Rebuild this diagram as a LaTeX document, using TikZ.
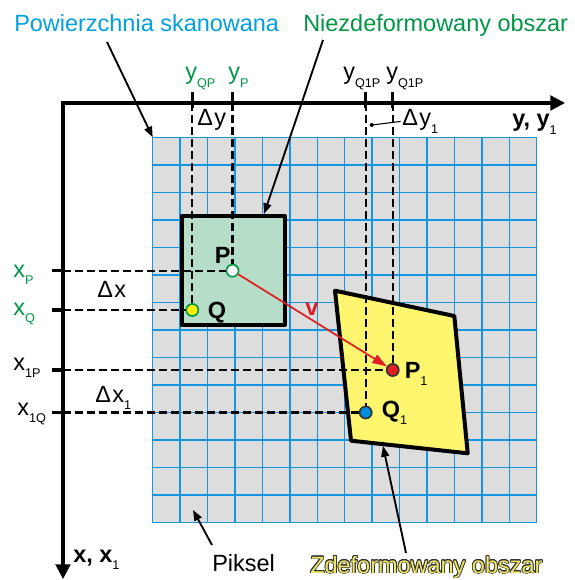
\documentclass[tikz,border=0pt]{standalone}
\usepackage{fontspec}
\setmainfont{Liberation Sans}
\usepackage[copies]{contour}
\contourlength{0.55pt}
\contournumber{20}
\usetikzlibrary{arrows.meta}
\definecolor{gridfill}{RGB}{221,221,221}
\definecolor{gridline}{RGB}{20,150,225}
\definecolor{sqfill}{RGB}{181,221,200}
\definecolor{quadfill}{RGB}{255,246,112}
\definecolor{tblue}{RGB}{0,160,225}
\definecolor{tgreen}{RGB}{0,150,70}
\definecolor{vred}{RGB}{225,30,35}
\definecolor{qoneblue}{RGB}{0,140,220}
\definecolor{qyellow}{RGB}{255,240,0}
\definecolor{zyellow}{RGB}{240,232,100}
\newcommand\sbs[1]{\raisebox{-0.3em}{\fontsize{9.5}{9.5}\selectfont #1}}
\newcommand\fsz{\fontsize{17.6}{17.6}\selectfont}
\begin{document}
\begin{tikzpicture}[x=0.75pt,y=-0.75pt,
  lbl/.style={inner sep=0pt, anchor=base west, font=\fsz},
  ptnode/.style={circle, inner sep=0pt, minimum size=9pt, line width=1.1pt},
  dsh/.style={dash pattern=on 6pt off 3pt, line width=1.7pt},
  ptr/.style={line width=1.4pt, -{Triangle[length=8pt,width=6pt]}},
  axisline/.style={line width=2.3pt, line join=miter, {Triangle[length=11pt,width=11pt]}-{Triangle[length=11pt,width=11pt]}},
  tickline/.style={line width=2.3pt},
  frame/.style={line width=3pt, line join=round}]
\useasboundingbox (0,0) rectangle (574,580);
% grid
\fill[gridfill] (152.7,137.3) rectangle (536.7,522.7);
\foreach \i in {0,...,14}{
  \draw[gridline, line width=1.1pt] ({152.7+\i*27.4286},137.3) -- ({152.7+\i*27.4286},522.7);
  \draw[gridline, line width=1.1pt] (152.7,{137.3+\i*27.5286}) -- (536.7,{137.3+\i*27.5286});
}
\coordinate (gridcorner) at (152.7,137.3);
% undeformed square
\draw[frame, fill=sqfill] (181.5,216) rectangle (285,325);
\coordinate (sqtop) at (264,214);
% deformed quad
\draw[frame, fill=quadfill] (335,290.7) -- (454.3,316) -- (467.7,453.3) -- (351,440.7) -- cycle;
\coordinate (quadbot) at (383,446);
% points
\node[ptnode, draw=tgreen, fill=white] (P) at (232.5,270.7) {};
\node[ptnode, draw=tgreen, fill=qyellow] (Q) at (192.3,310) {};
\node[ptnode, draw=black!80, fill=vred] (P1) at (392.7,370) {};
\node[ptnode, draw=black!80, fill=qoneblue] (Q1) at (365.7,412.5) {};
% axis coordinates
\coordinate (O) at (63,103);
\coordinate (yend) at (565,103);
\coordinate (xend) at (63,579);
\coordinate (tyqp) at (192.3,103);
\coordinate (typ) at (232.5,103);
\coordinate (tyqa) at (365.7,103);
\coordinate (tyqb) at (392.7,103);
\coordinate (txp) at (63,270.7);
\coordinate (txq) at (63,310);
\coordinate (txap) at (63,370);
\coordinate (txaq) at (63,412.5);
% dashed projection lines
\draw[dsh] (tyqp) -- (Q);
\draw[dsh] (typ) -- (P);
\draw[dsh] (tyqa) -- (Q1);
\draw[dsh] (tyqb) -- (P1);
\draw[dsh] (txp) -- (P);
\draw[dsh] (txq) -- (Q);
\draw[dsh] (txap) -- (P1);
\draw[dsh] (txaq) -- (Q1);
% redraw points on top
\node[ptnode, draw=tgreen, fill=white] at (P) {};
\node[ptnode, draw=tgreen, fill=qyellow] at (Q) {};
\node[ptnode, draw=black!80, fill=vred] at (P1) {};
\node[ptnode, draw=black!80, fill=qoneblue] at (Q1) {};
% axes
\draw[axisline] (yend) -- (O) -- (xend);
\foreach \t in {tyqp,typ,tyqa,tyqb}{
  \draw[tickline] (\t) ++(0,-10.5) -- ++(0,15.5);
}
\foreach \t in {txp,txq,txap,txaq}{
  \draw[tickline] (\t) ++(-11,0) -- ++(13,0);
}
% displacement vector
\draw[vred, line width=1.3pt, -{Triangle[length=11pt,width=7pt]}] (P) -- (P1);
\node[lbl, text=vred, font=\fsz\bfseries] (lv) at (305,315) {v};
% point labels
\node[lbl, font=\fsz\bfseries] (lP) at (214.5,263) {P};
\node[lbl, font=\fsz\bfseries] (lQ) at (207.5,318) {Q};
\node[lbl, font=\fsz\bfseries] (lP1) at (404.5,378) {P\sbs{\mdseries 1}};
\node[lbl, font=\fsz\bfseries] (lQ1) at (381.5,417) {Q\sbs{\mdseries 1}};
% axis labels
\node[lbl, text=tgreen] (lyqp) at (185,80) {y\sbs{QP}};
\node[lbl, text=tgreen] (lyp) at (228,80) {y\sbs{P}};
\node[lbl] (lyqa) at (343,80) {y\sbs{Q1P}};
\node[lbl] (lyqb) at (386,80) {y\sbs{Q1P}};
\node[lbl] (ldy) at (197,126) {Δ\kern1pt y};
\node[lbl] (ldya) at (402,126) {Δ\kern1pt y\sbs{1}};
\node[circle, fill, inner sep=0pt, minimum size=3pt] (dotd) at (371.7,125) {};
\draw[line width=0.8pt] (dotd.center) -- ([xshift=-1pt]ldya.west);
\node[lbl, font=\fsz\bfseries] (lyaxis) at (512,127) {y, y\sbs{\mdseries 1}};
\node[lbl, text=tgreen] (lxp) at (13,277) {x\sbs{P}};
\node[lbl, text=tgreen] (lxq) at (13,315) {x\sbs{Q}};
\node[lbl] (lxap) at (13,370) {x\sbs{1P}};
\node[lbl] (lxaq) at (17,415) {x\sbs{1Q}};
\node[lbl] (ldx) at (97,297) {Δ\kern1pt x};
\node[lbl] (ldxa) at (95,402) {Δ\kern1pt x\sbs{1}};
\node[lbl, font=\fsz\bfseries] (lxaxis) at (73,562) {x, x\sbs{\mdseries 1}};
% titles and pointers
\node[lbl, text=tblue] (tpow) at (14,32) {Powierzchnia skanowana};
\node[lbl, text=tgreen] (tnie) at (303,32) {Niezdeformowany obszar};
\node[lbl, text=zyellow] (tzde) at (310,573) {\contour{black!80}{Zdeformowany obszar}};
\node[lbl] (tpik) at (212,571) {Piksel};
\coordinate (powstart) at (107,42);
\coordinate (niestart) at (323,40);
\coordinate (zdestart) at (406,553);
\coordinate (pikstart) at (212,545);
\coordinate (pikend) at (193,510);
\draw[ptr] (powstart) -- (gridcorner);
\draw[ptr] (niestart) -- (sqtop);
\draw[ptr] (zdestart) -- (quadbot);
\draw[ptr] (pikstart) -- (pikend);
\end{tikzpicture}
\end{document}
